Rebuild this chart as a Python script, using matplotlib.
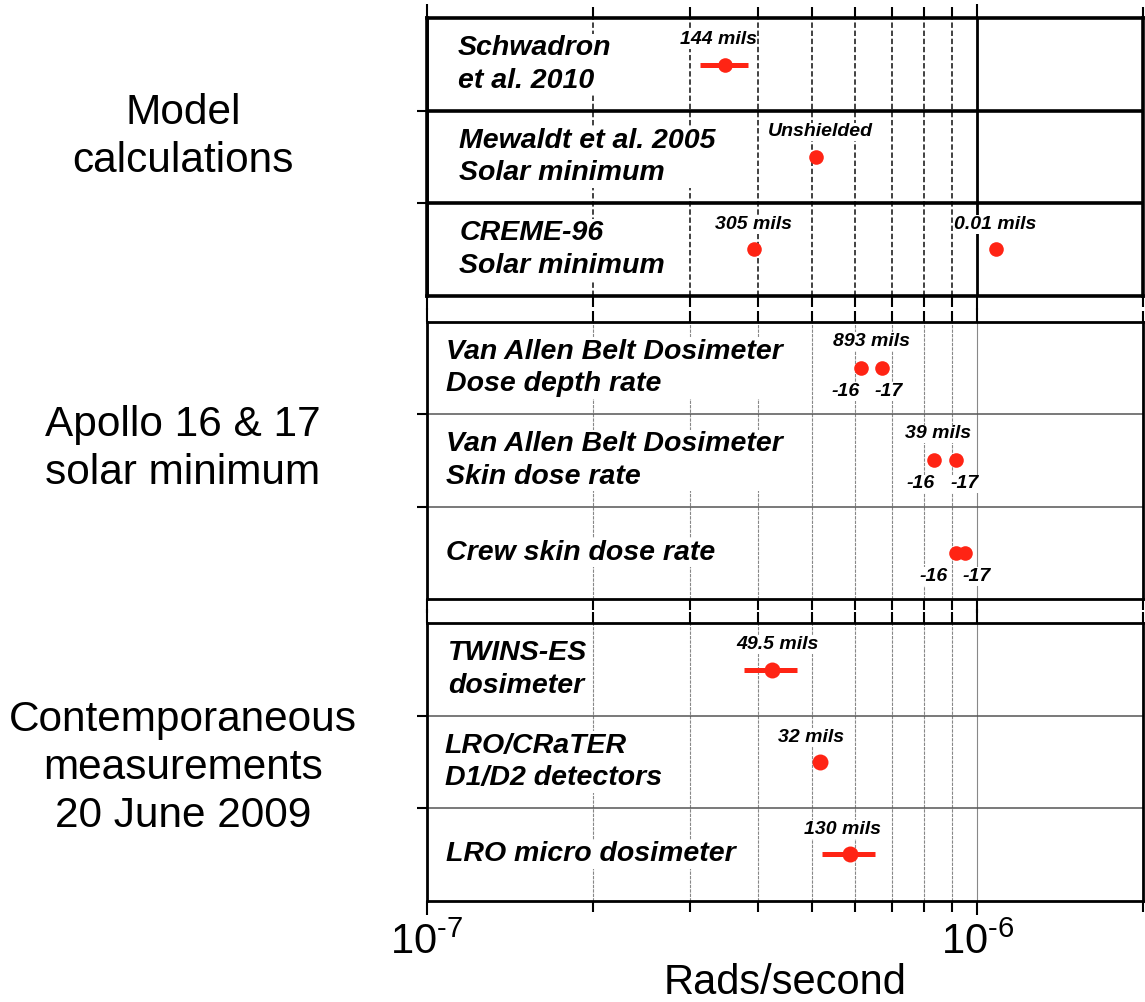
import numpy as np
import matplotlib
matplotlib.use("Agg")
import matplotlib.pyplot as plt
from matplotlib.ticker import LogLocator, FuncFormatter, NullFormatter

plt.rcParams['font.family'] = ['Liberation Sans', 'DejaVu Sans']
plt.rcParams['mathtext.fontset'] = 'custom'
plt.rcParams['mathtext.rm'] = 'Liberation Sans'
plt.rcParams['mathtext.it'] = 'Liberation Sans:italic'
plt.rcParams['mathtext.bf'] = 'Liberation Sans:bold'

RED = '#ff2414'

# ---- data (rads/second) ----
group_names = ["Model\ncalculations",
               "Apollo 16 & 17\nsolar minimum",
               "Contemporaneous\nmeasurements\n20 June 2009"]

model_rows = ["Schwadron\net al. 2010", "Mewaldt et al. 2005\nSolar minimum",
              "CREME-96\nSolar minimum"]
model_row = [0, 1, 2, 2]
model_rate = [3.48e-7, 5.09e-7, 3.92e-7, 1.079e-6]
model_lo = [3.14e-7, np.nan, np.nan, np.nan]
model_hi = [3.83e-7, np.nan, np.nan, np.nan]
model_tags = ["144 mils", "Unshielded", "305 mils", "0.01 mils"]

apollo_rows = ["Van Allen Belt Dosimeter\nDose depth rate",
               "Van Allen Belt Dosimeter\nSkin dose rate",
               "Crew skin dose rate"]
apollo16 = [6.15e-7, 8.34e-7, 9.13e-7]
apollo17 = [6.71e-7, 9.13e-7, 9.49e-7]
apollo_tags = ["893 mils", "39 mils", ""]
mission_tags = ["-16", "-17"]

meas_rows = ["TWINS-ES\ndosimeter", "LRO/CRaTER\nD1/D2 detectors", "LRO micro dosimeter"]
meas_rate = [4.24e-7, 5.17e-7, 5.86e-7]
meas_lo = [3.76e-7, np.nan, 5.22e-7]
meas_hi = [4.71e-7, np.nan, 6.51e-7]
meas_tags = ["49.5 mils", "32 mils", "130 mils"]

# ---- layout (label nudges in points) ----
model_dx = [-5, 3, 0, 0]
apollo_dx = [0, -5, 0]
dx16 = [-11.5, -9.5, -16]
dx17 = [5, 6.5, 8.5]
meas_dx = [4, -6.5, -5]
group_y = [0.863, 0.552, 0.2335]

W, H = 1145, 1002
fig = plt.figure(figsize=(W / 100, H / 100), dpi=100)
left, width = 427 / W, (1143 - 427) / W
ph = 277.4 / H
ax_top = fig.add_axes([left, 1 - 295.7 / H, width, ph])
ax_mid = fig.add_axes([left, 1 - 599 / H, width, ph])
ax_bot = fig.add_axes([left, 1 - 900.7 / H, width, ph])

white = dict(facecolor='white', edgecolor='none', pad=1)
row_font = dict(fontsize=20.5, fontweight='bold', fontstyle='italic')
tag_font = dict(fontsize=14, fontweight='bold', fontstyle='italic')


def setup(ax, heavy, row_labels, text_x):
    ax.set_xscale('log')
    ax.set_xlim(1e-7, 2e-6)
    ax.set_ylim(3, 0)
    ax.xaxis.set_major_locator(LogLocator(base=10, numticks=10))
    ax.xaxis.set_minor_locator(LogLocator(base=10, subs=np.arange(2, 10), numticks=10))
    ax.xaxis.set_minor_formatter(NullFormatter())
    ax.xaxis.set_major_formatter(NullFormatter())
    ax.set_yticks([1, 2])
    ax.set_yticklabels([])
    ax.tick_params(axis='x', which='both', direction='out', top=True, bottom=True, width=1.5)
    ax.tick_params(axis='x', which='major', length=10)
    ax.tick_params(axis='x', which='minor', length=8)
    ax.tick_params(axis='y', direction='out', length=7, width=1.5, left=True, right=False)
    ax.set_axisbelow(True)
    if heavy:
        for s in ax.spines.values():
            s.set_linewidth(2.6)
        ax.grid(axis='x', which='minor', color='#333333', lw=1.3, ls=(0, (3, 1.5)))
        ax.grid(axis='x', which='major', color='black', lw=2)
        ax.grid(axis='y', which='major', color='black', lw=2.6)
    else:
        for s in ax.spines.values():
            s.set_linewidth(2)
        ax.grid(axis='x', which='minor', color='#888888', lw=0.8, ls=(0, (3, 1)))
        ax.grid(axis='x', which='major', color='#888888', lw=0.8)
        ax.grid(axis='y', which='major', color='#555555', lw=1.1)
    for i, lab in enumerate(row_labels):
        ax.text(text_x[i], i + 0.5, lab, transform=ax.get_yaxis_transform(),
                ha='left', va='center', linespacing=1.33, bbox=white, **row_font)


def tag(ax, s, x, y, dx, dy):
    ax.annotate(s, (x, y), xytext=(dx, dy), textcoords='offset points',
                ha='center', va='center', bbox=dict(facecolor='white', edgecolor='none', pad=0.5),
                **tag_font)


# ---- model calculations ----
setup(ax_top, True, model_rows, [0.043, 0.045, 0.045])
for i in range(len(model_rate)):
    y = model_row[i] + 0.5
    x = model_rate[i]
    if not np.isnan(model_lo[i]):
        ax_top.plot([model_lo[i], model_hi[i]], [y, y], color=RED, lw=3.6, solid_capstyle='butt')
    ax_top.plot(x, y, 'o', color=RED, ms=10.5, mec='none')
    tag(ax_top, model_tags[i], x, y, model_dx[i], 18)

# ---- Apollo ----
setup(ax_mid, False, apollo_rows, [0.027, 0.027, 0.027])
rows = np.arange(3) + 0.5
ax_mid.plot(apollo16, rows, 'o', color=RED, ms=10.5, mec='none', ls='none')
ax_mid.plot(apollo17, rows, 'o', color=RED, ms=10.5, mec='none', ls='none')
for i in range(3):
    mid = np.sqrt(apollo16[i] * apollo17[i])
    if apollo_tags[i]:
        tag(ax_mid, apollo_tags[i], mid, rows[i], apollo_dx[i], 19)
    tag(ax_mid, mission_tags[0], apollo16[i], rows[i], dx16[i], -17)
    tag(ax_mid, mission_tags[1], apollo17[i], rows[i], dx17[i], -17)

# ---- contemporaneous measurements ----
setup(ax_bot, False, meas_rows, [0.03, 0.025, 0.026])
for i in range(3):
    y = rows[i]
    if not np.isnan(meas_lo[i]):
        ax_bot.plot([meas_lo[i], meas_hi[i]], [y, y], color=RED, lw=3.6, solid_capstyle='butt')
    ax_bot.plot(meas_rate[i], y, 'o', color=RED, ms=11.5, mec='none')
    tag(ax_bot, meas_tags[i], meas_rate[i], y, meas_dx[i], 18)


def pow_label(v, pos):
    return r'$10^{\text{-%d}}$' % round(-np.log10(v))


ax_bot.xaxis.set_major_formatter(FuncFormatter(pow_label))
ax_bot.tick_params(axis='x', which='major', labelsize=30, pad=6)
ax_bot.set_xlabel('Rads/second', fontsize=30, labelpad=0)

for name, gy in zip(group_names, group_y):
    fig.text(183 / W, gy, name, ha='center', va='center', fontsize=30.5,
             linespacing=1.25, multialignment='center')

fig.savefig('out.png', dpi=100)
